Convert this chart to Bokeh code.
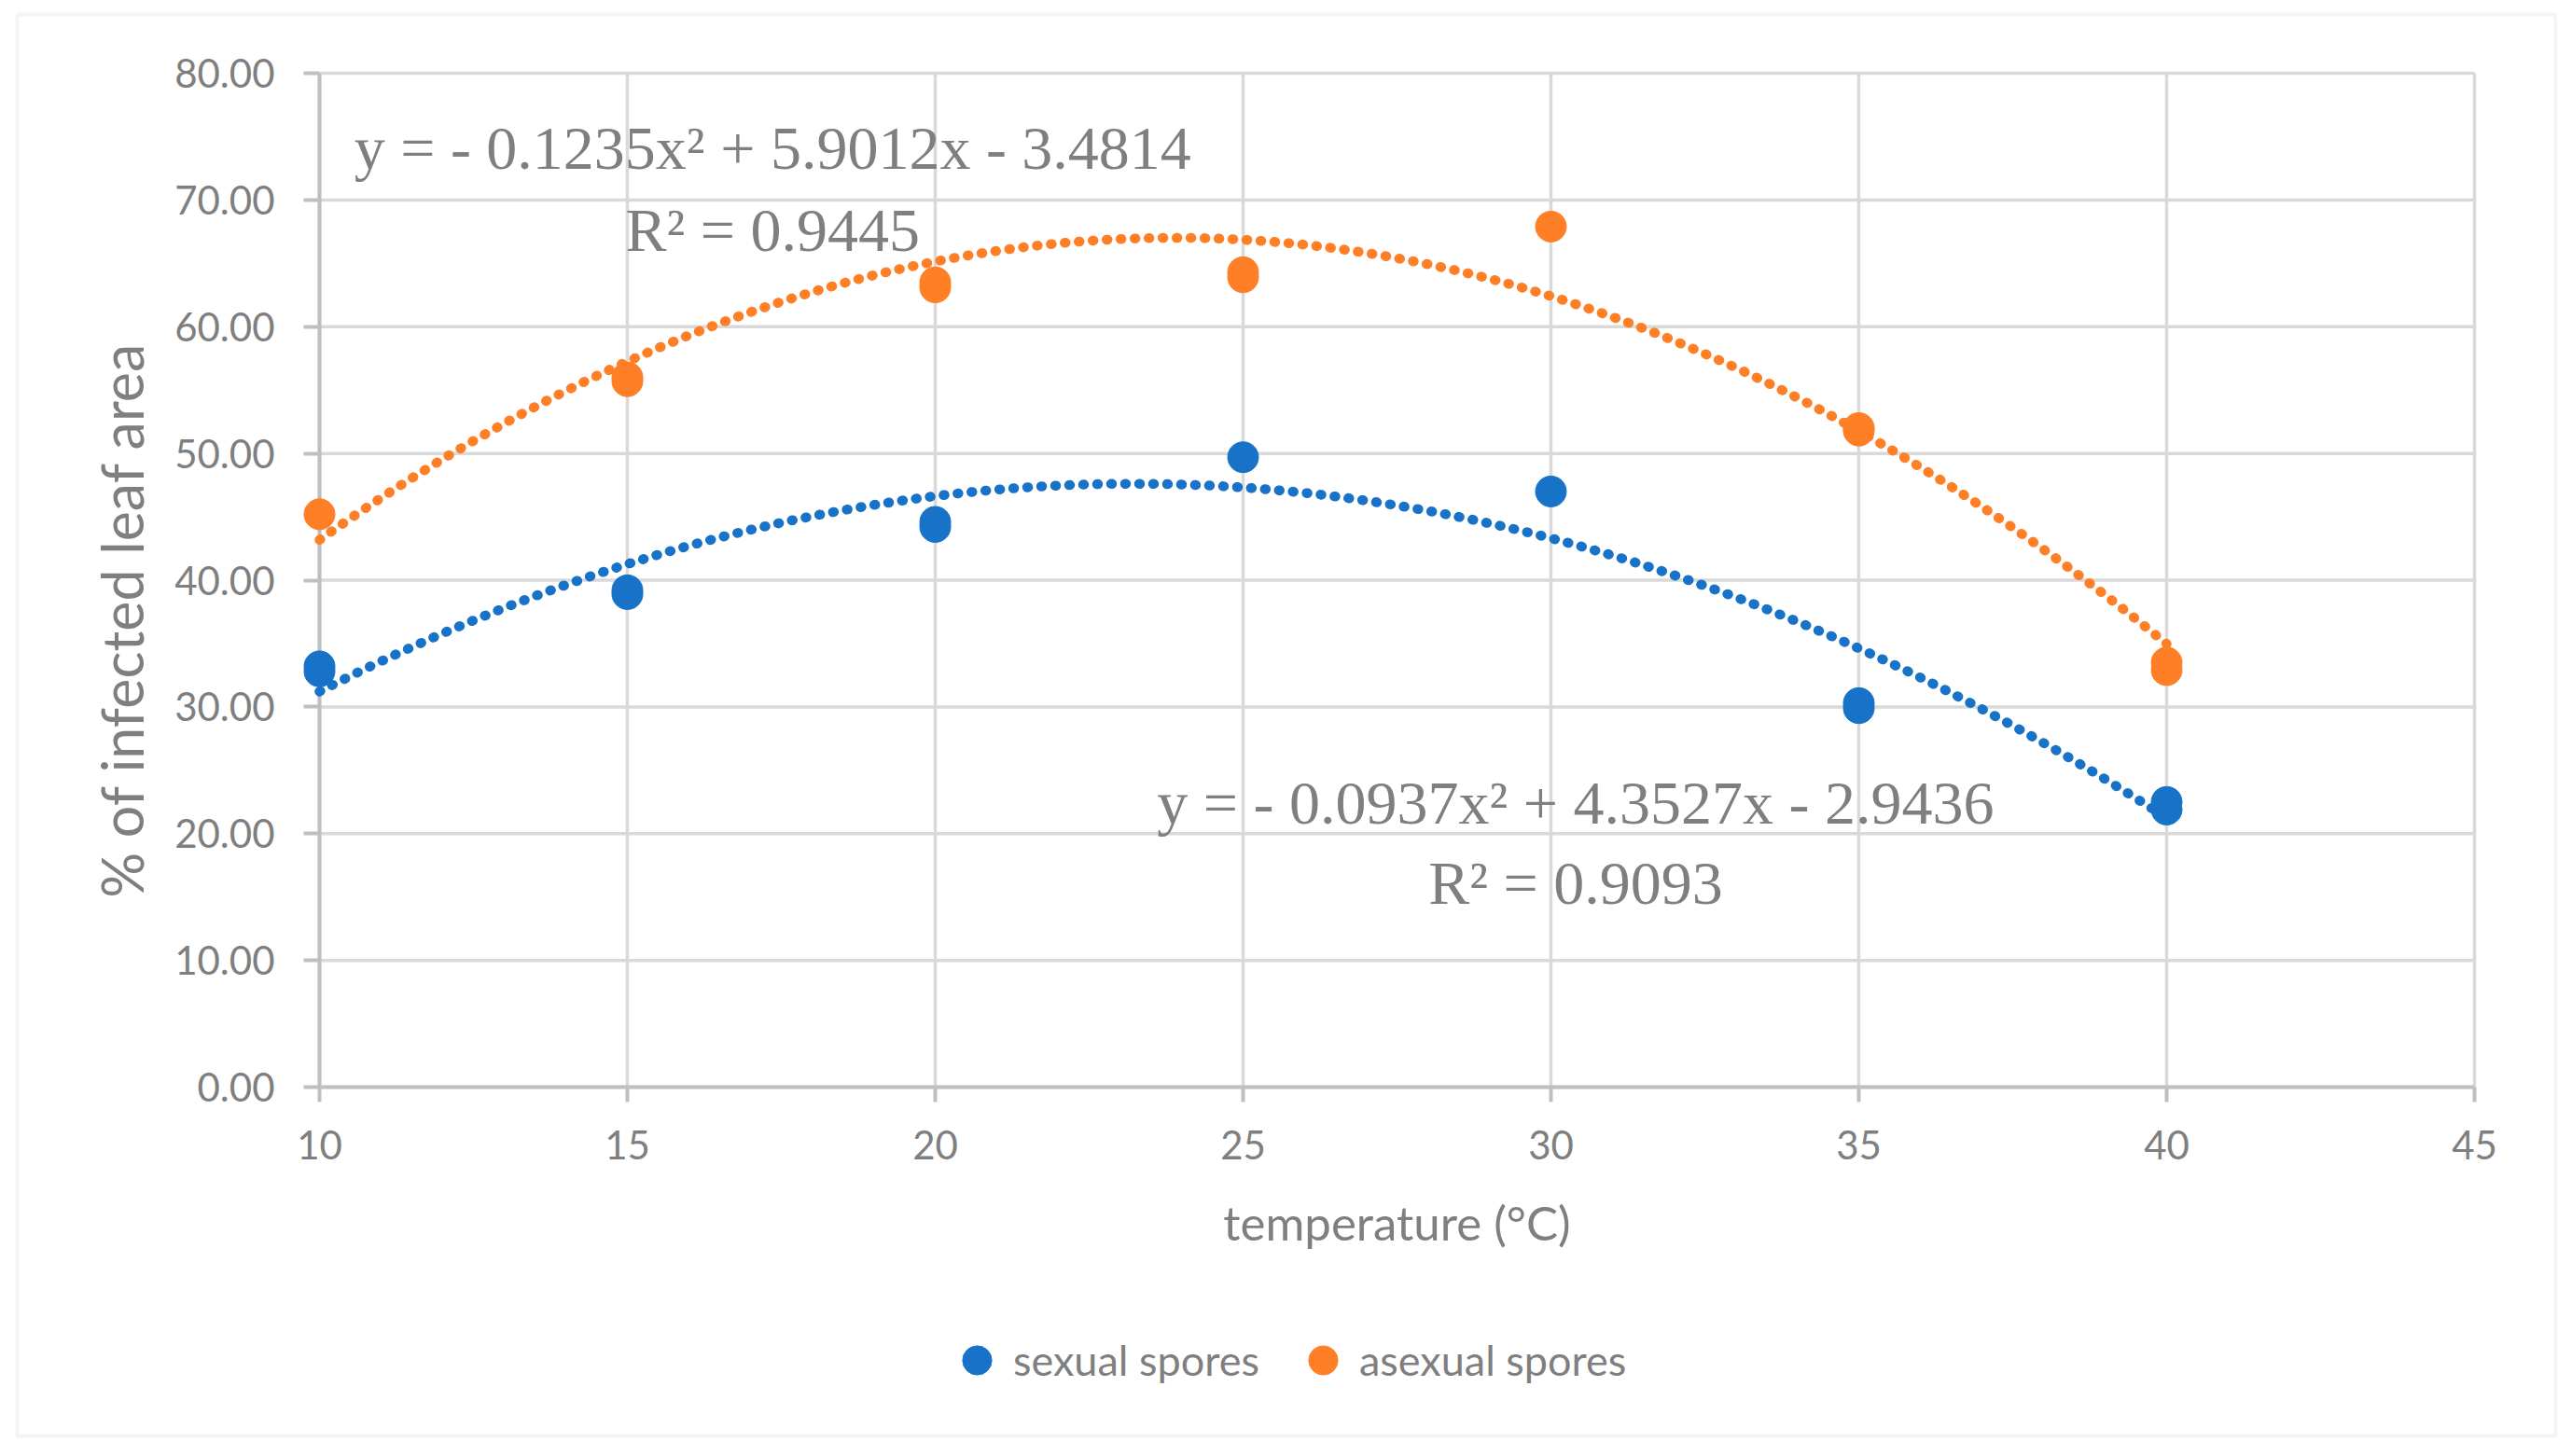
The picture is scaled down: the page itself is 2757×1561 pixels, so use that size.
import math
import numpy as np
from bokeh.plotting import figure
from bokeh.models import (Range1d, FixedTicker, NumeralTickFormatter, Label, Legend,
                          LegendItem, BoxAnnotation)
from bokeh.embed import file_html
from bokeh.resources import INLINE

# ---------------- data ----------------
temp_sexual = [10, 10, 15, 15, 20, 20, 25, 30, 35, 35, 40, 40]
pct_sexual = [32.8, 33.2, 38.9, 39.2, 44.2, 44.6, 49.7, 47.0, 29.9, 30.3, 21.9, 22.5]
temp_asexual = [10, 15, 15, 20, 20, 25, 25, 30, 35, 35, 40, 40]
pct_asexual = [45.2, 55.7, 56.0, 63.1, 63.5, 63.9, 64.3, 67.9, 51.8, 52.0, 32.9, 33.5]

# trendline coefficients (a, b, c) for y = a x^2 + b x + c, as printed on the chart
fit_sexual = [-0.0937, 4.3527, -2.9436]
fit_asexual = [-0.1235, 5.9012, -3.4814]
r2_sexual = 0.9093
r2_asexual = 0.9445

x_ticks = [10, 15, 20, 25, 30, 35, 40, 45]
y_ticks = [0, 10, 20, 30, 40, 50, 60, 70, 80]

series_names = ["sexual spores", "asexual spores"]
x_title = "temperature (°C)"
y_title = "% of infected leaf area"

BLUE = "#1873c8"
ORANGE = "#ff7f27"
TXT = "#7f7f7f"
GRID = "#d9d9d9"
AXIS = "#bfbfbf"

# ---------------- layout (pixels) ----------------
W, H = 2741, 1545
PX_X0, PX_X1 = 342, 2652      # pixel of first / last x tick
PX_Y0, PX_Y1 = 1165, 78       # pixel of first / last y tick
SX = (PX_X1 - PX_X0) / (x_ticks[-1] - x_ticks[0])
SY = (PX_Y0 - PX_Y1) / (y_ticks[-1] - y_ticks[0])

def xd(px):
    return x_ticks[0] + (px - PX_X0) / SX

def yd(py):
    return y_ticks[0] + (PX_Y0 - py) / SY

p = figure(width=W, height=H, output_backend="svg", toolbar_location=None, title=None,
           x_range=Range1d(xd(0), xd(W)), y_range=Range1d(yd(H), yd(0)),
           min_border=0, min_border_left=0, min_border_right=0,
           min_border_top=0, min_border_bottom=0)
p.background_fill_color = "white"
p.border_fill_color = "white"
p.outline_line_color = None
p.grid.visible = False

# outer chart border
p.add_layout(BoxAnnotation(left=xd(18), right=xd(2739), top=yd(15), bottom=yd(1539),
                           fill_alpha=0, line_color=GRID, line_width=4, level="underlay"))

# grid lines spanning only the axis extents
nx, ny = len(x_ticks), len(y_ticks)
p.segment(x0=x_ticks, y0=[y_ticks[0]] * nx, x1=x_ticks, y1=[y_ticks[-1]] * nx,
          line_color=GRID, line_width=3.5)
p.segment(x0=[x_ticks[0]] * ny, y0=y_ticks, x1=[x_ticks[-1]] * ny, y1=y_ticks,
          line_color=GRID, line_width=3.5)

# axes at fixed locations
p.xaxis.fixed_location = y_ticks[0]
p.xaxis.bounds = (x_ticks[0], x_ticks[-1])
p.yaxis.fixed_location = x_ticks[0]
p.yaxis.bounds = (y_ticks[0], y_ticks[-1])
p.xaxis.ticker = FixedTicker(ticks=x_ticks)
p.yaxis.ticker = FixedTicker(ticks=y_ticks)
p.yaxis.formatter = NumeralTickFormatter(format="0.00")

for ax in (p.xaxis, p.yaxis):
    ax.axis_line_color = AXIS
    ax.axis_line_width = 4
    ax.major_tick_line_color = AXIS
    ax.major_tick_line_width = 4
    ax.major_tick_in = 0
    ax.minor_tick_line_color = None
    ax.major_label_text_font = "Lato"
    ax.major_label_text_font_size = "42px"
    ax.major_label_text_color = TXT
    ax.axis_label_text_font = "Lato"
    ax.axis_label_text_color = TXT
    ax.axis_label_text_font_style = "normal"

p.xaxis.major_tick_out = 16
p.xaxis.major_label_standoff = 30
p.xaxis.axis_label = x_title
p.xaxis.axis_label_text_font_size = "51px"
p.xaxis.axis_label_standoff = 34

p.yaxis.major_tick_out = 17
p.yaxis.major_label_standoff = 31

# y axis title
p.add_layout(Label(x=xd(130), y=yd(664), text=y_title, angle=math.pi / 2,
                   text_font="Lato", text_font_size="61px", text_color=TXT,
                   text_align="center", text_baseline="middle"))

# trendlines
def trend(coefs, xs):
    a, b, c = coefs
    return [a * x * x + b * x + c for x in xs]

xs_fit = np.linspace(min(temp_sexual), max(temp_sexual), 300)
p.line(xs_fit, trend(fit_asexual, xs_fit), line_color=ORANGE, line_width=10.5,
       line_dash="1 14", line_cap="round", level="annotation")
p.line(xs_fit, trend(fit_sexual, xs_fit), line_color=BLUE, line_width=10.5,
       line_dash="1 14", line_cap="round", level="annotation")

# points
r_sex = p.scatter(temp_sexual, pct_sexual, size=33, marker="circle",
                  fill_color=BLUE, line_color=BLUE, level="annotation")
r_asex = p.scatter(temp_asexual, pct_asexual, size=33, marker="circle",
                   fill_color=ORANGE, line_color=ORANGE, level="annotation")

# equation labels
def eq_text(c):
    return "y = - %.4fx² + %.4fx - %.4f" % (-c[0], c[1], -c[2])

for txt, x, y in [
    (eq_text(fit_asexual), 17.36, 74.13),
    ("R² = %.4f" % r2_asexual, 17.36, 67.62),
    (eq_text(fit_sexual), 30.40, 22.48),
    ("R² = %.4f" % r2_sexual, 30.40, 16.15),
]:
    p.add_layout(Label(x=x, y=y, text=txt, text_font="Liberation Serif",
                       text_font_size="66px", text_color=TXT,
                       text_align="center", text_baseline="alphabetic"))

# legends (one item each so they sit where the original has them)
for name, rend, loc in [(series_names[0], r_sex, (1008, 48)),
                        (series_names[1], r_asex, (1379, 48))]:
    lg = Legend(items=[LegendItem(label=name, renderers=[rend])], location=loc,
                orientation="horizontal", glyph_width=78, glyph_height=78,
                label_standoff=-20, padding=0, margin=0, spacing=0,
                background_fill_alpha=0, border_line_alpha=0,
                label_text_font="Lato", label_text_font_size="45px",
                label_text_color=TXT)
    p.add_layout(lg, "center")

open("out.html", "w").write(file_html(p, INLINE))
